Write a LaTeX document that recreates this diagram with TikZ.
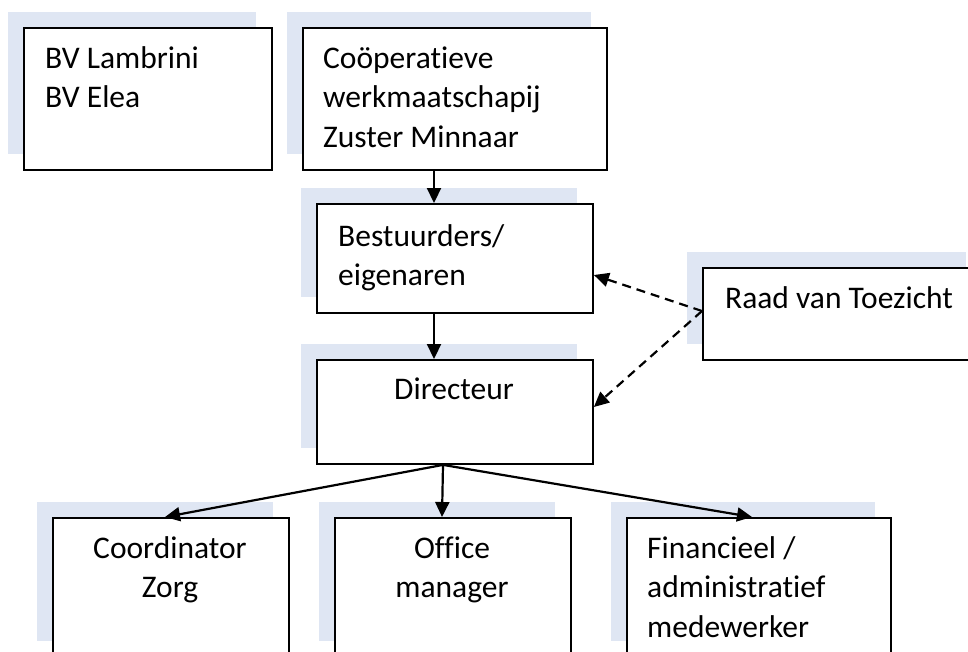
\documentclass[tikz,border=0pt]{standalone}
\usepackage{fontspec}
\setmainfont{Carlito}[Ligatures=NoCommon]
\usetikzlibrary{arrows.meta,shadows}
\definecolor{shadowc}{RGB}{223,230,243}
\begin{document}
\begin{tikzpicture}[x=1pt,y=-1pt,
  box/.style={draw=black, line width=1.9pt, fill=white, inner sep=0pt, anchor=north west,
    drop shadow={shadow xshift=-16pt, shadow yshift=16pt, fill=shadowc, opacity=1}},
  txt/.style={inner sep=0pt, font=\fontsize{31.5}{39.5}\selectfont},
  arr/.style={line width=2.2pt, -{Triangle[length=15pt,width=14pt]}},
  darr/.style={arr, dash pattern=on 9pt off 6pt}]
\clip (0,0) rectangle (968,651);
\fill[white] (0,0) rectangle (968,651);
% boxes
\node[box, minimum width=248pt, minimum height=142pt] (b1) at (23,27) {};
\node[box, minimum width=304pt, minimum height=142pt] (b2) at (302,27) {};
\node[box, minimum width=276pt, minimum height=109pt] (b3) at (316,203) {};
\node[box, minimum width=276pt, minimum height=104pt] (b4) at (316,359) {};
\node[box, minimum width=279pt, minimum height=92pt] (r) at (702,267) {};
\node[box, minimum width=236pt, minimum height=139pt] (c1) at (52,517) {};
\node[box, minimum width=236pt, minimum height=139pt] (c2) at (334,517) {};
\node[box, minimum width=264pt, minimum height=139pt] (c3) at (626,517) {};
% texts
\node[txt, anchor=base west] (t1) at (45,68) {\parbox[t]{220pt}{BV Lambrini\\BV Elea}};
\node[txt, anchor=base west] (t2) at (323,68) {\parbox[t]{280pt}{Coöperatieve\\werkmaatschapij\\Zuster Minnaar}};
\node[txt, anchor=base west] (t3) at (338,246) {\parbox[t]{250pt}{Bestuurders/\\eigenaren}};
\node[txt, anchor=base] (t4) at (454,399) {Directeur};
\node[txt, anchor=base west] (t5) at (725,308) {Raad van Toezicht};
\node[txt, anchor=base] (t6) at (170,558) {\parbox[t]{236pt}{\centering Coordinator\\Zorg}};
\node[txt, anchor=base] (t7) at (452,558) {\parbox[t]{236pt}{\centering Office\\manager}};
\node[txt, anchor=base west] (t8) at (647,558) {\parbox[t]{240pt}{Financieel /\\administratief\\medewerker}};
% connectors
\draw[arr] ([xshift=132pt]b2.south west) -- ([xshift=118pt]b3.north west);
\draw[arr] ([xshift=118pt]b3.south west) -- ([xshift=118pt]b4.north west);
\coordinate (rs) at ([yshift=-44pt]r.north west);
\draw[darr] (rs) -- ([yshift=-72pt]b3.north east);
\draw[darr] (rs) -- ([yshift=-48pt]b4.north east);
\coordinate (f) at ([xshift=127pt]b4.south west);
\draw[arr] (f) -- ([xshift=113pt]c1.north west);
\draw[arr] (f) -- ([xshift=108pt]c2.north west);
\draw[arr] (f) -- ([xshift=126pt]c3.north west);
\end{tikzpicture}
\end{document}
